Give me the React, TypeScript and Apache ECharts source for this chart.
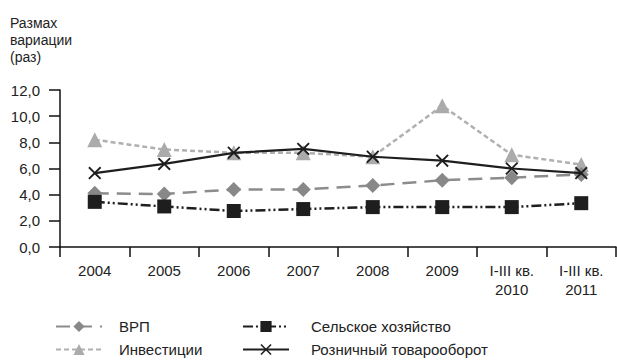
import React, { useEffect, useRef } from "react";
import * as echarts from "echarts";

const categories = ["2004", "2005", "2006", "2007", "2008", "2009", "I-III кв.\n2010", "I-III кв.\n2011"];
const vrp = [4.1, 4.05, 4.4, 4.4, 4.7, 5.1, 5.3, 5.55];
const invest = [8.2, 7.45, 7.2, 7.2, 6.9, 10.8, 7.05, 6.3];
const agri = [3.45, 3.1, 2.75, 2.9, 3.05, 3.05, 3.05, 3.35];
const retail = [5.65, 6.35, 7.2, 7.5, 6.9, 6.6, 6.0, 5.65];
const yTitle = "Размах\nвариации\n(раз)";

const FONT = "'Liberation Sans', Arial, sans-serif";
const crossPath =
  "path://M2,0 L10,8 L18,0 L20,2 L12,10 L20,18 L18,20 L10,12 L2,20 L0,18 L8,10 L0,2 Z";

export default function App() {
  const ref = useRef<HTMLDivElement>(null);
  useEffect(() => {
    const chart = echarts.init(ref.current!, null, { renderer: "svg" });
    const legendCommon = {
      orient: "vertical",
      padding: 0,
      itemWidth: 46,
      itemHeight: 14,
      itemGap: 8,
      selectedMode: false,
    };
    chart.setOption({
      animation: false,
      textStyle: { fontFamily: FONT },
      graphic: [
        {
          type: "text",
          left: 10,
          top: 14,
          style: { text: yTitle, font: `14px ${FONT}`, fill: "#222", lineHeight: 17 },
        },
      ],
      legend: [
        {
          ...legendCommon,
          left: 55,
          top: 319,
          data: ["ВРП", "Инвестиции"],
          textStyle: { fontFamily: FONT, fontSize: 15, color: "#222", padding: [0, 0, 0, 12] },
        },
        {
          ...legendCommon,
          left: 242,
          top: 319,
          data: ["Сельское хозяйство", "Розничный товарооборот"],
          textStyle: { fontFamily: FONT, fontSize: 15, color: "#222", padding: [0, 0, 0, 17] },
        },
      ],
      grid: { left: 60, right: 1, top: 90, bottom: 116, containLabel: false },
      xAxis: {
        type: "category",
        data: categories,
        boundaryGap: true,
        axisLine: { lineStyle: { color: "#111", width: 1.5 } },
        axisTick: { show: true, length: 10, lineStyle: { color: "#111", width: 1.5 } },
        axisLabel: { color: "#222", fontSize: 15, margin: 14, lineHeight: 19, fontFamily: FONT },
      },
      yAxis: {
        type: "value",
        min: 0,
        max: 12,
        interval: 2,
        splitLine: { show: false },
        axisLine: { show: true, lineStyle: { color: "#111", width: 1.5 } },
        axisTick: { show: true, length: 11, lineStyle: { color: "#111", width: 1.5 } },
        axisLabel: {
          color: "#222",
          fontSize: 15,
          margin: 20,
          fontFamily: FONT,
          formatter: (v: number) => v.toFixed(1).replace(".", ","),
        },
      },
      series: [
        {
          name: "ВРП",
          type: "line",
          data: vrp,
          symbol: "diamond",
          symbolSize: 15,
          itemStyle: { color: "#888888" },
          lineStyle: { color: "#8c8c8c", width: 2.5, type: [14, 8] },
          z: 2,
        },
        {
          name: "Инвестиции",
          type: "line",
          data: invest,
          symbol: "triangle",
          symbolSize: 15,
          itemStyle: { color: "#ababab" },
          lineStyle: { color: "#b0b0b0", width: 2.5, type: [5, 3] },
          z: 1,
        },
        {
          name: "Сельское хозяйство",
          type: "line",
          data: agri,
          symbol: "rect",
          symbolSize: 14,
          itemStyle: { color: "#1e1e1e" },
          lineStyle: { color: "#1e1e1e", width: 2.5, type: [10, 3, 2, 3, 2, 3] },
          z: 3,
        },
        {
          name: "Розничный товарооборот",
          type: "line",
          data: retail,
          symbol: crossPath,
          symbolSize: 13,
          itemStyle: { color: "#1e1e1e" },
          lineStyle: { color: "#1e1e1e", width: 2.2, type: "solid" },
          z: 4,
        },
      ],
    });
    return () => chart.dispose();
  }, []);
  return (
    <div
      ref={ref}
      style={{ position: "fixed", left: 0, top: 0, width: 617, height: 363, background: "#fff" }}
    />
  );
}
